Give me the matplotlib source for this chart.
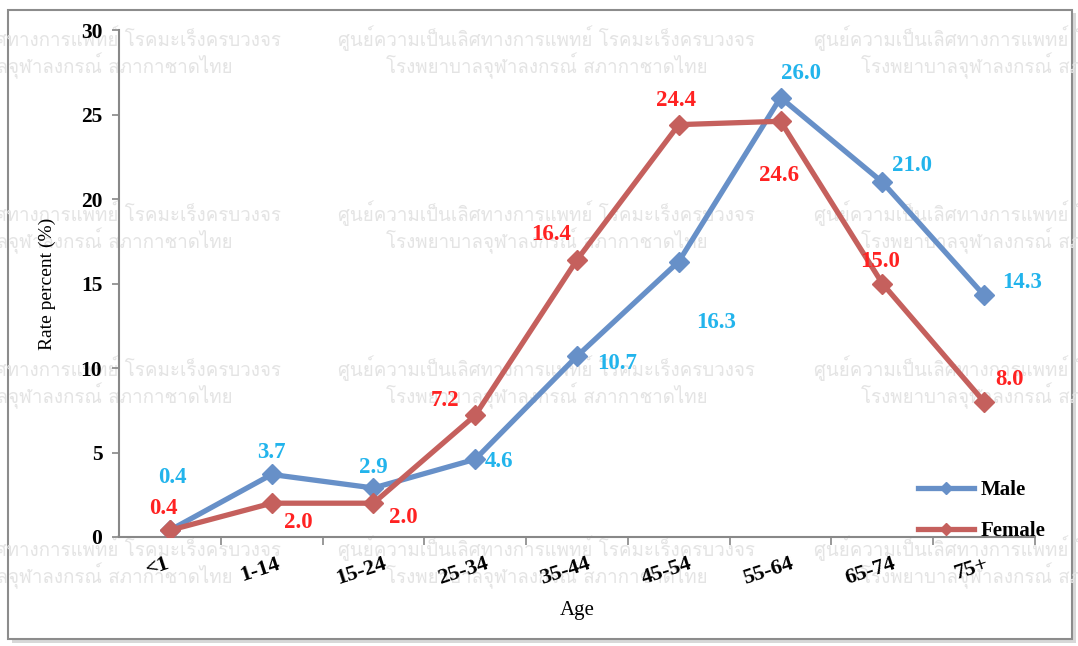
import matplotlib
matplotlib.use("Agg")
import matplotlib.pyplot as plt
from matplotlib import font_manager
from matplotlib.lines import Line2D
from matplotlib.patches import Rectangle
import matplotlib.transforms as mtrans

# data
ages = ['<1', '1-14', '15-24', '25-34', '35-44', '45-54', '55-64', '65-74', '75+']
male = [0.4, 3.7, 2.9, 4.6, 10.7, 16.3, 26.0, 21.0, 14.3]
female = [0.4, 2.0, 2.0, 7.2, 16.4, 24.4, 24.6, 15.0, 8.0]

wm_line1 = 'ศูนย์ความเป็นเลิศทางการแพทย์ โรคมะเร็งครบวงจร'
wm_line2 = 'โรงพยาบาลจุฬาลงกรณ์ สภากาชาดไทย'

# label offsets in pixels (dx, dy) from each point
male_off = [(2, 53), (0, 22), (0, 20), (24, -2), (40, -7), (37, -61), (20, 24), (30, 17), (38, 13)]
female_off = [(-7, 22), (27, -19), (30, -14), (-30, 15), (-26, 25), (-3, 24), (-2, -54), (-2, 22), (25, 22)]

male_line = '#6790c8'
female_line = '#c5605d'
male_txt = '#22b4ec'
female_txt = '#ff2222'

serif = ['Liberation Serif', 'DejaVu Serif']
plt.rcParams['font.family'] = serif

fig = plt.figure(figsize=(10.78, 6.46), dpi=100)
fig.patch.set_facecolor('white')

# outer frame with a soft shadow
fig.patches.append(Rectangle((12 / 1078, 3 / 646), 1064 / 1078, 630 / 646, transform=fig.transFigure,
                             facecolor='#d8d8d8', edgecolor='none', zorder=-3))
fig.patches.append(Rectangle((8 / 1078, 7 / 646), 1064 / 1078, 629 / 646, transform=fig.transFigure,
                             facecolor='white', edgecolor='#8c8c8c', linewidth=1.5, zorder=-2))

# watermark, only if a font with Thai glyphs is around
thai_font = None
try:
    from fontTools.ttLib import TTFont
    for f in font_manager.fontManager.ttflist:
        try:
            tt = TTFont(f.fname, fontNumber=0, lazy=True)
            if ord('ศ') in tt.getBestCmap():
                thai_font = f.name
                break
        except Exception:
            pass
except Exception:
    pass

if thai_font:
    for cx in [72, 547, 1022]:
        for ty in [38, 213, 368, 548]:
            fig.text(cx / 1078, 1 - ty / 646, wm_line1, fontsize=13.5, color='#e4e4e4',
                     ha='center', va='center', family=thai_font, zorder=-1)
            fig.text(cx / 1078, 1 - (ty + 28) / 646, wm_line2, fontsize=13.5, color='#e4e4e4',
                     ha='center', va='center', family=thai_font, zorder=-1)

ax = fig.add_axes([119 / 1078, 1 - 537 / 646, (1035 - 119) / 1078, (537 - 30) / 646])
ax.set_facecolor('none')

x = list(range(len(ages)))
ax.plot(x, male, color=male_line, lw=3.8, marker='D', ms=10, mec=male_line, mfc=male_line, zorder=3)
ax.plot(x, female, color=female_line, lw=3.8, marker='D', ms=10, mec=female_line, mfc=female_line, zorder=3)

for i in x:
    ax.annotate(f'{male[i]:.1f}', (i, male[i]), xytext=male_off[i], textcoords='offset pixels',
                ha='center', va='center', color=male_txt, fontsize=16.5, fontweight='bold')
    ax.annotate(f'{female[i]:.1f}', (i, female[i]), xytext=female_off[i], textcoords='offset pixels',
                ha='center', va='center', color=female_txt, fontsize=16.5, fontweight='bold')

ax.set_xlim(-0.5, len(ages) - 0.5)
ax.set_ylim(0, 30)
ax.set_yticks([0, 5, 10, 15, 20, 25, 30])
ax.set_xticks(x)
ax.set_xticklabels(ages, rotation=18, fontsize=16, fontweight='bold', ha='center')
ax.set_xticks([i + 0.5 for i in x], minor=True)
ax.tick_params(axis='x', which='major', length=0, pad=12)
ax.tick_params(axis='x', which='minor', length=6, color='#888888', width=1.2)
ax.tick_params(axis='y', length=5, color='#888888', width=1.2, pad=7, labelsize=15.5)
for lab in ax.get_yticklabels():
    lab.set_fontweight('bold')
shift = mtrans.ScaledTranslation(-12 / 100, 0, fig.dpi_scale_trans)
for lab in ax.get_xticklabels():
    lab.set_transform(lab.get_transform() + shift)

for s in ['top', 'right']:
    ax.spines[s].set_visible(False)
for s in ['left', 'bottom']:
    ax.spines[s].set_color('#888888')
    ax.spines[s].set_linewidth(1.5)

ax.set_xlabel('Age', fontsize=15, labelpad=9)
ax.set_ylabel('Rate percent (%)', fontsize=14, labelpad=18)

handles = [Line2D([0], [0], color=male_line, lw=3.8, marker='D', ms=6),
           Line2D([0], [0], color=female_line, lw=3.8, marker='D', ms=6)]
ax.legend(handles, ['Male', 'Female'], loc='lower right', bbox_to_anchor=(1.032, -0.045), frameon=False,
          prop={'family': serif, 'weight': 'bold', 'size': 15}, handlelength=2.7, labelspacing=1.0,
          handletextpad=0.3)

fig.savefig('out.png', dpi=100)
